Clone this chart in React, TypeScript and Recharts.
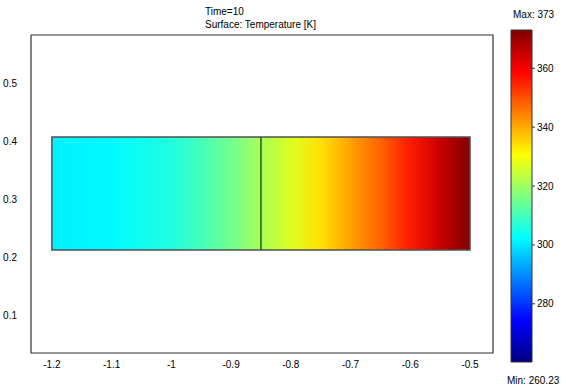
import React from "react";
import {
  Area,
  ComposedChart,
  ReferenceArea,
  ReferenceLine,
  XAxis,
  YAxis,
} from "recharts";

// temperature along the bar
const profileX = [-1.2, -1.1, -1.0, -0.95, -0.9, -0.85, -0.8, -0.75, -0.7, -0.65, -0.6, -0.55, -0.5];
const profileT = [301, 302, 306, 310, 315, 321, 327, 334, 341, 348, 356, 365, 373];

const xTicks = [-1.2, -1.1, -1, -0.9, -0.8, -0.7, -0.6, -0.5];
const yTicks = [0.1, 0.2, 0.3, 0.4, 0.5];
const colorTicks = [280, 300, 320, 340, 360];

const barBottom = 0.212;
const barTop = 0.407;
const boundaryX = -0.85;

const tMin = 260.23;
const tMax = 373;

const xDomain: [number, number] = [-1.235, -0.4615];
const yDomain: [number, number] = [0.0345, 0.583];

const font = "'Liberation Sans', Arial, sans-serif";

const clamp = (v: number) => Math.max(0, Math.min(1, v));
const hex = (v: number) => Math.round(clamp(v) * 255).toString(16).padStart(2, "0");

function jet(t: number) {
  const r = 1.5 - Math.abs(4 * t - 3);
  const g = 1.5 - Math.abs(4 * t - 2);
  const b = 1.5 - Math.abs(4 * t - 1);
  return `#${hex(r)}${hex(g)}${hex(b)}`;
}

const barData = profileX.map((x) => ({ x, band: [barBottom, barTop] }));
const scaleData = [0, 1].map((x) => ({ x, band: [tMin, tMax] }));

const tickStyle = { fontSize: 10, fill: "#000", fontFamily: font };

const label = (top: number, left: number, text: string) => (
  <div
    style={{
      position: "absolute",
      top,
      left,
      fontSize: 10,
      lineHeight: "12px",
      fontFamily: font,
      color: "#000",
      whiteSpace: "nowrap",
    }}
  >
    {text}
  </div>
);

export default function App() {
  return (
    <div style={{ position: "absolute", top: 0, left: 0, width: 566, height: 392, background: "#fff" }}>
      <div style={{ position: "absolute", top: 0, left: 0 }}>
        <ComposedChart
          width={566}
          height={392}
          data={barData}
          margin={{ top: 35, right: 73, bottom: 9, left: 0 }}
        >
          <defs>
            <linearGradient id="tempGrad" x1="0" y1="0" x2="1" y2="0">
              {profileX.map((x, i) => (
                <stop
                  key={x}
                  offset={(x - profileX[0]) / (profileX[profileX.length - 1] - profileX[0])}
                  stopColor={jet((profileT[i] - tMin) / (tMax - tMin))}
                />
              ))}
            </linearGradient>
          </defs>
          <XAxis
            dataKey="x"
            type="number"
            domain={xDomain}
            ticks={xTicks}
            allowDataOverflow
            height={30}
            tickSize={0}
            tickMargin={8}
            axisLine={false}
            tickLine={false}
            tick={tickStyle}
            interval={0}
          />
          <YAxis
            type="number"
            domain={yDomain}
            ticks={yTicks}
            allowDataOverflow
            width={31}
            tickSize={0}
            tickMargin={14}
            axisLine={false}
            tickLine={false}
            tick={tickStyle}
            interval={0}
          />
          <Area
            dataKey="band"
            type="linear"
            stroke="none"
            fill="url(#tempGrad)"
            fillOpacity={1}
            dot={false}
            activeDot={false}
            isAnimationActive={false}
          />
          <ReferenceArea
            x1={profileX[0]}
            x2={profileX[profileX.length - 1]}
            y1={barBottom}
            y2={barTop}
            fill="none"
            stroke="#505050"
            strokeWidth={1.5}
            ifOverflow="visible"
          />
          <ReferenceLine
            segment={[
              { x: boundaryX, y: barBottom },
              { x: boundaryX, y: barTop },
            ]}
            stroke="#2e5a10"
            strokeWidth={1.5}
            ifOverflow="visible"
          />
          <ReferenceArea
            x1={xDomain[0]}
            x2={xDomain[1]}
            y1={yDomain[0]}
            y2={yDomain[1]}
            fill="none"
            stroke="#333"
            strokeWidth={1.2}
            ifOverflow="visible"
          />
        </ComposedChart>
      </div>

      <div style={{ position: "absolute", top: 0, left: 0 }}>
        <ComposedChart
          width={566}
          height={392}
          data={scaleData}
          margin={{ top: 30, right: 0, bottom: 30, left: 511 }}
        >
          <defs>
            <linearGradient id="jetGrad" x1="0" y1="1" x2="0" y2="0">
              {[0, 0.125, 0.375, 0.625, 0.875, 1].map((t) => (
                <stop key={t} offset={t} stopColor={jet(t)} />
              ))}
            </linearGradient>
          </defs>
          <XAxis dataKey="x" type="number" domain={[0, 1]} hide />
          <YAxis
            orientation="right"
            type="number"
            domain={[tMin, tMax]}
            ticks={colorTicks}
            allowDataOverflow
            width={34}
            tickSize={3}
            tickMargin={2}
            axisLine={false}
            tickLine={{ stroke: "#333" }}
            tick={{ ...tickStyle, textAnchor: "start" }}
            interval={0}
          />
          <Area
            dataKey="band"
            type="linear"
            stroke="none"
            fill="url(#jetGrad)"
            fillOpacity={1}
            dot={false}
            activeDot={false}
            isAnimationActive={false}
          />
          <ReferenceArea
            x1={0}
            x2={1}
            y1={tMin}
            y2={tMax}
            fill="none"
            stroke="#333"
            strokeWidth={1}
            ifOverflow="visible"
          />
        </ComposedChart>
      </div>

      {label(6, 205, "Time=10")}
      {label(19, 205, "Surface: Temperature [K]")}
      {label(9, 513, "Max: 373")}
      {label(375, 507, "Min: 260.23")}
    </div>
  );
}
